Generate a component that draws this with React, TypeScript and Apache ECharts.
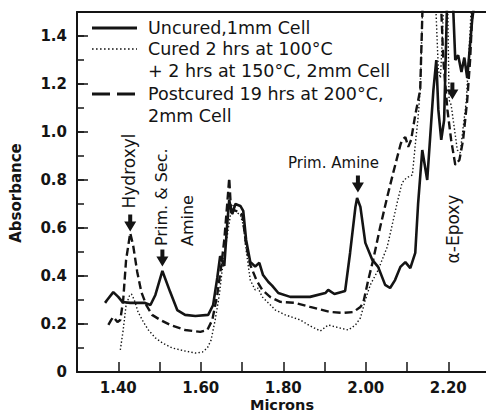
import React, { useEffect, useRef } from "react";
import * as echarts from "echarts";

// ---- data (microns, absorbance) ----
const uncured: [number, number][] = [
  [1.368, 0.288], [1.373, 0.3], [1.388, 0.333], [1.4, 0.313], [1.41, 0.292], [1.429, 0.288],
  [1.465, 0.288], [1.478, 0.279], [1.49, 0.321], [1.507, 0.421], [1.526, 0.333], [1.543, 0.258],
  [1.562, 0.238], [1.587, 0.233], [1.618, 0.238], [1.63, 0.279], [1.64, 0.392], [1.647, 0.483],
  [1.657, 0.442], [1.664, 0.613], [1.669, 0.717], [1.676, 0.658], [1.684, 0.7], [1.696, 0.692],
  [1.703, 0.671], [1.71, 0.55], [1.72, 0.458], [1.732, 0.44], [1.742, 0.455], [1.751, 0.404],
  [1.764, 0.375], [1.773, 0.36], [1.788, 0.329], [1.817, 0.313], [1.865, 0.313], [1.902, 0.329],
  [1.909, 0.342], [1.924, 0.325], [1.95, 0.338], [1.962, 0.496], [1.975, 0.688], [1.979, 0.725],
  [1.987, 0.688], [1.999, 0.538], [2.016, 0.467], [2.03, 0.438], [2.047, 0.363], [2.059, 0.35],
  [2.071, 0.383], [2.084, 0.438], [2.096, 0.458], [2.108, 0.433], [2.12, 0.496], [2.127, 0.704],
  [2.137, 0.925], [2.149, 0.8], [2.164, 1.175], [2.171, 1.3], [2.176, 1.092], [2.183, 0.967],
  [2.19, 1.05], [2.198, 1.6], [2.21, 1.6], [2.217, 1.3], [2.224, 1.32], [2.232, 1.25],
  [2.239, 1.31], [2.246, 1.225], [2.258, 1.467], [2.268, 1.6], [2.292, 1.6],
];

const cured: [number, number][] = [
  [1.405, 0.092], [1.412, 0.175], [1.419, 0.279], [1.427, 0.317], [1.432, 0.325], [1.439, 0.3],
  [1.448, 0.25], [1.461, 0.208], [1.473, 0.175], [1.49, 0.142], [1.507, 0.121], [1.531, 0.1],
  [1.562, 0.0875], [1.587, 0.079], [1.604, 0.083], [1.616, 0.1], [1.625, 0.133], [1.635, 0.217],
  [1.645, 0.321], [1.652, 0.425], [1.659, 0.508], [1.667, 0.6], [1.674, 0.675], [1.679, 0.696],
  [1.686, 0.667], [1.696, 0.654], [1.703, 0.613], [1.71, 0.508], [1.72, 0.383], [1.732, 0.342],
  [1.739, 0.35], [1.749, 0.313], [1.764, 0.288], [1.781, 0.258], [1.805, 0.238], [1.841, 0.217],
  [1.865, 0.192], [1.89, 0.171], [1.909, 0.196], [1.938, 0.183], [1.958, 0.175], [1.975, 0.196],
  [1.987, 0.225], [1.999, 0.3], [2.011, 0.363], [2.03, 0.425], [2.052, 0.521], [2.076, 0.704],
  [2.088, 0.788], [2.098, 0.808], [2.113, 0.821], [2.12, 0.946], [2.127, 1.0625], [2.132, 1.175],
  [2.139, 1.6], [2.168, 1.6], [2.176, 1.258], [2.181, 1.225], [2.185, 1.363], [2.19, 1.6],
  [2.198, 1.6], [2.202, 1.133], [2.207, 1.113], [2.212, 1.05], [2.222, 0.925], [2.229, 0.913],
  [2.234, 0.988], [2.244, 1.133], [2.253, 1.425], [2.258, 1.6], [2.292, 1.6],
];

const postcured: [number, number][] = [
  [1.376, 0.196], [1.383, 0.217], [1.388, 0.229], [1.398, 0.208], [1.405, 0.217], [1.412, 0.3],
  [1.419, 0.467], [1.429, 0.579], [1.436, 0.529], [1.446, 0.417], [1.456, 0.333], [1.468, 0.279],
  [1.482, 0.238], [1.502, 0.217], [1.526, 0.196], [1.562, 0.175], [1.599, 0.167], [1.616, 0.175],
  [1.628, 0.217], [1.64, 0.321], [1.65, 0.446], [1.657, 0.55], [1.664, 0.696], [1.669, 0.808],
  [1.674, 0.654], [1.681, 0.675], [1.691, 0.667], [1.701, 0.654], [1.71, 0.529], [1.72, 0.446],
  [1.735, 0.383], [1.749, 0.342], [1.768, 0.313], [1.793, 0.292], [1.829, 0.288], [1.865, 0.271],
  [1.914, 0.25], [1.945, 0.246], [1.97, 0.25], [1.987, 0.271], [1.994, 0.288], [2.006, 0.383],
  [2.018, 0.467], [2.035, 0.604], [2.052, 0.729], [2.067, 0.833], [2.084, 0.946], [2.088, 0.967],
  [2.096, 0.979], [2.103, 0.938], [2.11, 0.967], [2.12, 1.071], [2.132, 1.175], [2.139, 1.6],
  [2.181, 1.6], [2.188, 1.3], [2.198, 1.092], [2.207, 0.967], [2.217, 0.863], [2.227, 0.883],
  [2.236, 0.967], [2.246, 1.133], [2.253, 1.3], [2.261, 1.6], [2.292, 1.6],
];

const legendLabels = [
  "Uncured,1mm Cell",
  "Cured 2 hrs at 100°C",
  "+ 2 hrs at 150°C, 2mm Cell",
  "Postcured 19 hrs at 200°C,",
  "2mm Cell",
];

// arrow tips in data coords: Hydroxyl, Prim. & Sec. Amine, Prim. Amine, α-Epoxy
const arrowTips: [number, number][] = [
  [1.429, 0.585],
  [1.507, 0.44],
  [1.981, 0.748],
  [2.21, 1.135],
];

const X_MIN = 1.3;
const X_MAX = 2.2915;
const Y_MIN = 0;
const Y_MAX = 1.5;

const INK = "#141414";
const FONT = "DejaVu Sans";

function xLabel(v: number): string {
  const k = Math.round(v * 100);
  if (Math.abs(v * 100 - k) > 0.01) return "";
  if (k % 20 !== 0 || k < 140) return "";
  return (k / 100).toFixed(2);
}

function yLabel(v: number): string {
  const k = Math.round(v * 10);
  if (Math.abs(v * 10 - k) > 0.001) return "";
  if (k % 2 !== 0) return "";
  return k === 0 ? "0" : (k / 10).toFixed(1);
}

export default function App() {
  const ref = useRef<HTMLDivElement>(null);

  useEffect(() => {
    const chart = echarts.init(ref.current!, undefined, { renderer: "svg" });
    const axisLineStyle = { color: INK, width: 2 };
    chart.setOption({
      animation: false,
      backgroundColor: "#ffffff",
      grid: { left: 77, right: 0, top: 12, bottom: 44, containLabel: false },
      xAxis: [
        {
          type: "value",
          min: X_MIN,
          max: X_MAX,
          interval: 0.1,
          axisLine: { show: true, onZero: false, lineStyle: axisLineStyle },
          axisTick: { show: true, inside: true, length: 10, lineStyle: { color: INK, width: 1.5 } },
          axisLabel: {
            formatter: xLabel,
            margin: 8,
            color: INK,
            fontFamily: FONT,
            fontWeight: "bold",
            fontSize: 15,
            showMaxLabel: false,
            showMinLabel: false,
          },
          splitLine: { show: false },
        },
        {
          type: "value",
          position: "top",
          min: X_MIN,
          max: X_MAX,
          axisLine: { show: true, onZero: false, lineStyle: axisLineStyle },
          axisTick: { show: false },
          axisLabel: { show: false },
          splitLine: { show: false },
        },
      ],
      yAxis: [
        {
          type: "value",
          min: Y_MIN,
          max: Y_MAX,
          interval: 0.2,
          axisLine: { show: true, onZero: false, lineStyle: axisLineStyle },
          axisTick: { show: true, inside: true, length: 11, lineStyle: { color: INK, width: 1.5 } },
          axisLabel: {
            formatter: yLabel,
            margin: 10,
            color: INK,
            fontFamily: FONT,
            fontWeight: "bold",
            fontSize: 15,
            showMaxLabel: false,
          },
          splitLine: { show: false },
        },
        {
          type: "value",
          position: "left",
          min: Y_MIN,
          max: Y_MAX,
          interval: 0.1,
          axisLine: { show: false, onZero: false },
          axisTick: { show: true, inside: true, length: 7, lineStyle: { color: INK, width: 1.5 } },
          axisLabel: { show: false },
          splitLine: { show: false },
        },
      ],
      series: [
        {
          name: "Cured",
          type: "line",
          data: cured,
          showSymbol: false,
          symbol: "none",
          clip: true,
          lineStyle: { color: INK, width: 1.4, type: [1.4, 2.2] },
          z: 2,
        },
        {
          name: "Postcured",
          type: "line",
          data: postcured,
          showSymbol: false,
          symbol: "none",
          clip: true,
          lineStyle: { color: INK, width: 2.4, type: [8, 4] },
          z: 3,
        },
        {
          name: "Uncured",
          type: "line",
          data: uncured,
          showSymbol: false,
          symbol: "none",
          clip: true,
          lineStyle: { color: INK, width: 2.6 },
          z: 4,
        },
      ],
    });

    const textStyle = (text: string, size: number, extra: any = {}) => ({
      text,
      fill: INK,
      fontSize: size,
      fontFamily: FONT,
      ...extra,
    });

    const legendY = [28, 49, 71, 94, 116];
    const elements: any[] = [
      { type: "line", shape: { x1: 92, y1: 28, x2: 137, y2: 28 }, style: { stroke: INK, lineWidth: 3 } },
      {
        type: "line",
        shape: { x1: 92, y1: 49, x2: 137, y2: 49 },
        style: { stroke: INK, lineWidth: 1.6, lineDash: [1.6, 2.4] },
      },
      {
        type: "line",
        shape: { x1: 92, y1: 94, x2: 137, y2: 94 },
        style: { stroke: INK, lineWidth: 3, lineDash: [18, 7] },
      },
      ...legendLabels.map((t, i) => ({
        type: "text",
        x: 148,
        y: legendY[i],
        style: textStyle(t, 17.5, { align: "left", verticalAlign: "middle" }),
      })),
      {
        type: "text",
        x: 129,
        y: 171,
        rotation: Math.PI / 2,
        style: textStyle("Hydroxyl", 17, { align: "center", verticalAlign: "middle" }),
      },
      {
        type: "text",
        x: 161,
        y: 246,
        rotation: Math.PI / 2,
        style: textStyle("Prim. & Sec.", 16, { align: "left", verticalAlign: "middle" }),
      },
      {
        type: "text",
        x: 187,
        y: 246,
        rotation: Math.PI / 2,
        style: textStyle("Amine", 16, { align: "left", verticalAlign: "middle" }),
      },
      {
        type: "text",
        x: 288,
        y: 163,
        style: textStyle("Prim. Amine", 15, { align: "left", verticalAlign: "middle" }),
      },
      {
        type: "text",
        x: 453,
        y: 229,
        rotation: Math.PI / 2,
        style: textStyle("α-Epoxy", 17, { align: "center", verticalAlign: "middle" }),
      },
      {
        type: "text",
        x: 16,
        y: 193,
        rotation: Math.PI / 2,
        style: textStyle("Absorbance", 15, { align: "center", verticalAlign: "middle", fontWeight: "bold" }),
      },
      {
        type: "text",
        x: 282,
        y: 405,
        style: textStyle("Microns", 14.5, { align: "center", verticalAlign: "middle", fontWeight: "bold" }),
      },
    ];

    arrowTips.forEach(([x, y]) => {
      const p = chart.convertToPixel({ xAxisIndex: 0, yAxisIndex: 0 }, [x, y]) as number[];
      const tx = p[0];
      const ty = p[1];
      elements.push({
        type: "polygon",
        shape: {
          points: [
            [tx, ty],
            [tx - 6, ty - 10],
            [tx - 2, ty - 10],
            [tx - 2, ty - 17],
            [tx + 2, ty - 17],
            [tx + 2, ty - 10],
            [tx + 6, ty - 10],
          ],
        },
        style: { fill: INK },
        z: 10,
      });
    });

    chart.setOption({ graphic: { elements } });

    return () => chart.dispose();
  }, []);

  return (
    <div
      ref={ref}
      style={{ position: "fixed", left: 0, top: 0, width: 486, height: 416, background: "#fff" }}
    />
  );
}
